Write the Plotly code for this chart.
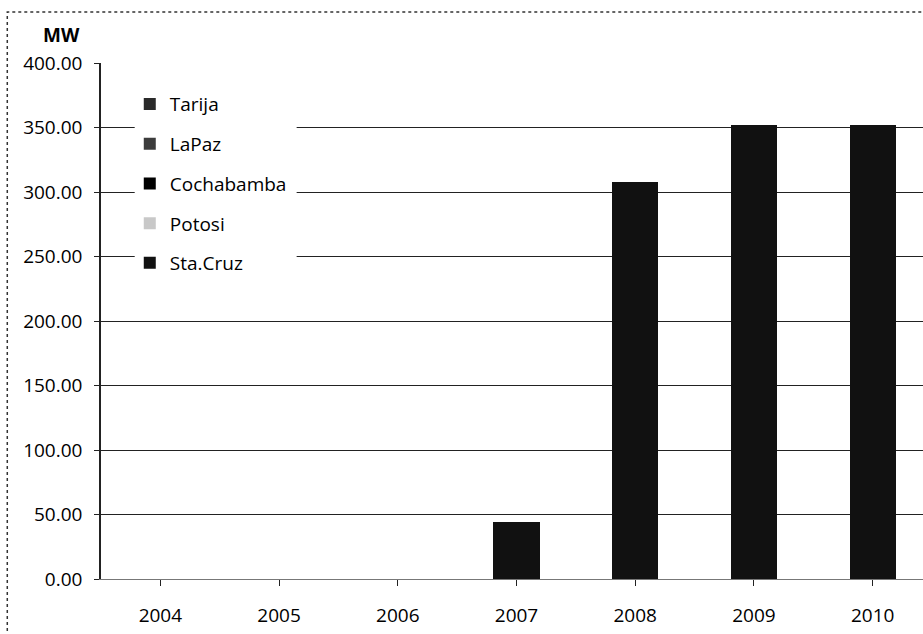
import plotly.graph_objects as go

# Installed capacity by department (MW)
years = ["2004", "2005", "2006", "2007", "2008", "2009", "2010"]
sta_cruz = [0, 0, 0, 44, 308, 352, 352]
potosi = [0, 0, 0, 0, 0, 0, 0]
cochabamba = [0, 0, 0, 0, 0, 0, 0]
la_paz = [0, 0, 0, 0, 0, 0, 0]
tarija = [0, 0, 0, 0, 0, 0, 0]

y_ticks = [0, 50, 100, 150, 200, 250, 300, 350, 400]

# stacking order bottom -> top
series = [
    ("Sta.Cruz", sta_cruz, "#111111"),
    ("Potosi", potosi, "#c8c8c8"),
    ("Cochabamba", cochabamba, "#000000"),
    ("LaPaz", la_paz, "#3c3c3c"),
    ("Tarija", tarija, "#2a2a2a"),
]

FONT = "Open Sans"
FS = 19
TXT = "#000000"

fig = go.Figure()
# legend lists the top of the stack first
for name, vals, col in series:
    fig.add_trace(go.Bar(
        x=list(range(len(years))), y=vals, name=name,
        legendgroup=name,
        legendrank=1000 - len(fig.data),
        marker=dict(color=col, line=dict(width=0)),
        width=0.39,
    ))

fig.update_layout(
    width=923, height=634,
    barmode="stack",
    plot_bgcolor="white", paper_bgcolor="white",
    margin=dict(l=101, r=0, t=63, b=55),
    font=dict(family=FONT, size=FS, color=TXT),
    showlegend=True,
    legend=dict(
        x=0.035, y=0.957, xanchor="left", yanchor="top",
        bgcolor="rgba(0,0,0,0)",
        traceorder="grouped",
        tracegroupgap=12,
        font=dict(family=FONT, size=FS, color=TXT),
        itemwidth=30,
    ),
)

fig.update_xaxes(
    range=[-0.5, 6.424],
    tickmode="array",
    tickvals=list(range(len(years))),
    ticktext=years,
    tickson="boundaries",
    ticks="outside", ticklen=6, tickcolor="#222222", tickwidth=1,
    showline=True, linecolor="#777777", linewidth=1,
    showgrid=False, zeroline=False,
    ticklabelstandoff=13,
)
fig.update_yaxes(
    range=[0, 400],
    tickmode="array",
    tickvals=y_ticks,
    ticktext=[f"{v:.2f}" for v in y_ticks],
    ticks="outside", ticklen=5, tickcolor="#222222", tickwidth=1,
    showline=True, linecolor="#222222", linewidth=1.5,
    showgrid=True, gridcolor="#222222", gridwidth=1,
    zeroline=False,
    ticklabelstandoff=8,
)

# white panel behind the legend entries
fig.add_shape(type="rect", xref="paper", yref="paper",
              x0=0.041, x1=0.238, y0=0.56, y1=0.96,
              fillcolor="white", line=dict(width=0), layer="above")

# outer chart frame
fig.add_shape(type="rect", xref="paper", yref="paper",
              x0=-0.114, x1=1.2, y0=-0.3, y1=1.0988,
              fillcolor="rgba(0,0,0,0)",
              line=dict(color="#333333", width=1.5, dash="dot"),
              layer="above")

# axis unit label
fig.add_annotation(text="<b>MW</b>", xref="paper", yref="paper",
                   x=-0.0231, y=1.0543, xanchor="right", yanchor="middle",
                   showarrow=False, font=dict(family=FONT, size=FS, color=TXT))

fig.write_html("out.html")
